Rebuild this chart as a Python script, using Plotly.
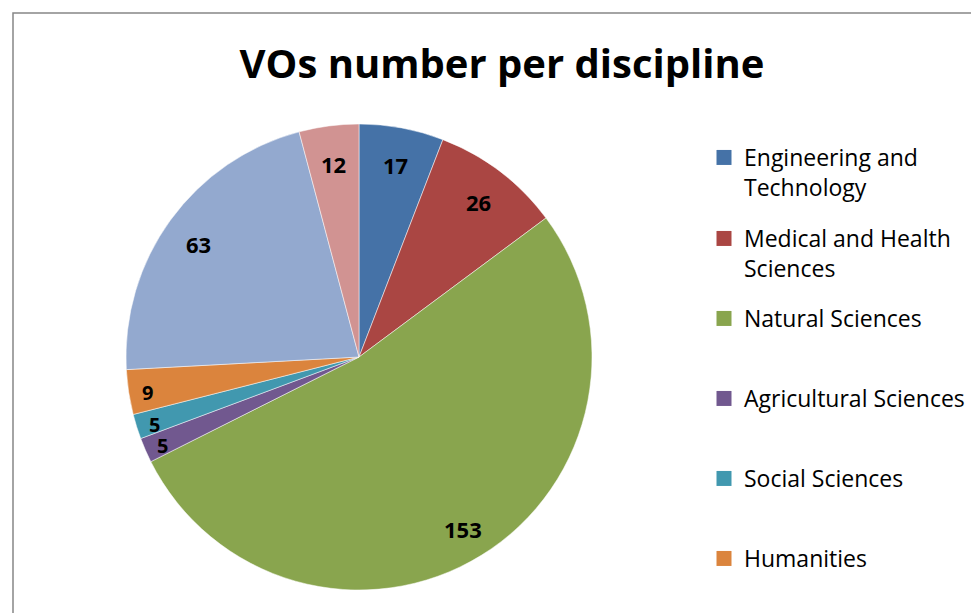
import math
import plotly.graph_objects as go

# VOs per discipline (slice order clockwise from 12 o'clock)
disciplines = ['Engineering and Technology', 'Medical and Health Sciences', 'Natural Sciences',
               'Agricultural Sciences', 'Social Sciences', 'Humanities',
               'Multidisciplinary', 'Other']
vo_counts = [17, 26, 153, 5, 5, 9, 63, 12]
colors = ['#4572A7', '#AA4643', '#89A54E', '#71588F', '#4198AF', '#DB843D', '#93A9CF', '#D19392']
# only these entries are visible in the (cropped) legend
legend_names = ['Engineering and<br>Technology', 'Medical and Health<br>Sciences', 'Natural Sciences',
                'Agricultural Sciences', 'Social Sciences', 'Humanities']

W, H = 979, 613
OFF = 8  # page body margin shifts everything by this much

def px(x):
    return (x - OFF) / W

def py(y):
    return 1 - (y - OFF) / H

# pie geometry in pixels (as in the original)
CX, CY, R = 359, 357, 233

fig = go.Figure()
fig.add_trace(go.Pie(
    labels=disciplines, values=vo_counts, sort=False, direction='clockwise', rotation=0,
    marker=dict(colors=colors, line=dict(color='white', width=0.5)),
    textinfo='none',
    domain=dict(x=[px(CX - R), px(CX + R)], y=[py(CY + R), py(CY - R)]),
    showlegend=False,
))

# value labels placed near the rim, like the spreadsheet did
total = sum(vo_counts)
cum = 0
for v in vo_counts:
    mid = (cum + v / 2) / total * 2 * math.pi
    cum += v
    small = v < 10
    rr = 0.92 * R if small else 0.85 * R
    lx = CX + rr * math.sin(mid)
    ly = CY - rr * math.cos(mid)
    fig.add_annotation(x=px(lx), y=py(ly + 3), xref='paper', yref='paper', text='<b>%d</b>' % v,
                       showarrow=False, xanchor='center', yanchor='middle',
                       font=dict(family='Open Sans', size=20 if small else 22, color='black'))

# legend entries, one legend box each so spacing matches the original
legend_tops = [136, 217, 297, 377, 457, 537]
for i, name in enumerate(legend_names):
    key = 'legend' if i == 0 else 'legend%d' % (i + 1)
    fig.add_trace(go.Scatter(
        x=[None], y=[None], mode='markers', name=name, legend=key,
        marker=dict(symbol='square', size=15, color=colors[i]),
    ))
    fig.layout[key] = dict(
        x=px(704), y=py(legend_tops[i]), xanchor='left', yanchor='top',
        font=dict(family='Open Sans', size=23, color='black'),
        bgcolor='rgba(0,0,0,0)', valign='top', itemwidth=30,
    )

fig.update_layout(
    width=W, height=H,
    margin=dict(l=0, r=0, t=0, b=0),
    paper_bgcolor='white', plot_bgcolor='white',
    xaxis=dict(visible=False), yaxis=dict(visible=False),
    title=dict(text='<b>VOs number per discipline</b>', x=px(502), xanchor='center',
               y=py(64), yanchor='middle',
               font=dict(family='Open Sans', size=40, color='black')),
    shapes=[dict(type='rect', xref='paper', yref='paper', x0=px(13), x1=1.2,
                 y0=-0.2, y1=py(13), line=dict(color='#868686', width=1.5))],
)

fig.write_html("out.html")
